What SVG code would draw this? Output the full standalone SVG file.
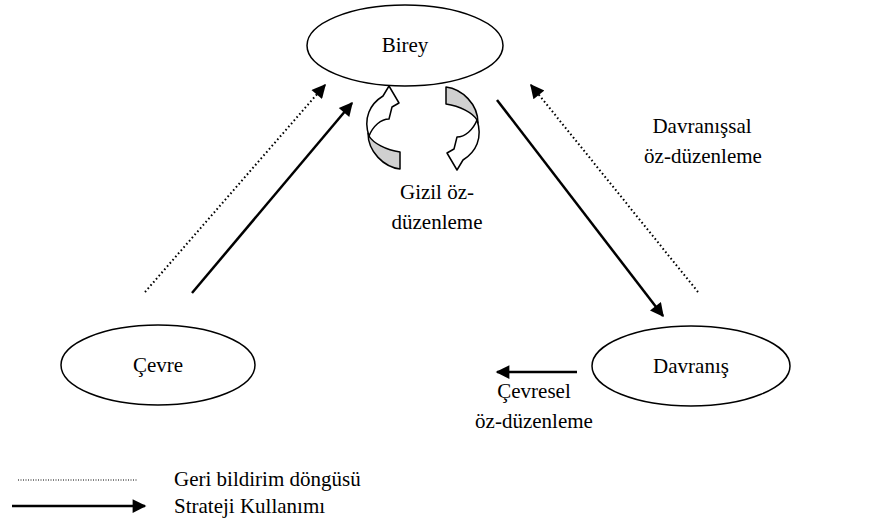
<svg xmlns="http://www.w3.org/2000/svg" width="873" height="530" viewBox="0 0 873 530">
<style>
.node{fill:#fff;stroke:#000;stroke-width:1.5}
text{font-family:"Liberation Serif","Times New Roman",serif;font-size:21px;fill:#000}
.c{text-anchor:middle}
.solid{stroke:#000;stroke-width:2.5;fill:none}
.dot{stroke:#000;stroke-width:2;stroke-dasharray:1.6 2.6;fill:none}
.ca{stroke:#000;stroke-width:1.5;stroke-linejoin:round}
</style>
<defs>
<marker id="ah" viewBox="0 0 10 10" refX="9" refY="5" markerWidth="6" markerHeight="5.5" markerUnits="strokeWidth" orient="auto"><path d="M0,0 L10,5 L0,10 Z" fill="#000"/></marker>
<marker id="ahd" viewBox="0 0 10 10" refX="9" refY="5" markerWidth="8" markerHeight="7" markerUnits="strokeWidth" orient="auto"><path d="M0,0 L10,5 L0,10 Z" fill="#000"/></marker>
<g id="curved">
<path class="ca" fill="#d0d0d0" d="M368,133 C368,152 384,167 400,169 L400,152 C386,150 373,143 369,136 Z"/>
<path class="ca" fill="#fff" d="M369,136 C363,118 370,104 383,96 L389,86 L399,103 L392,107 L389,119 C381,119 373,126 369,136 Z"/>
</g>
</defs>
<g id="connectors">
<line class="solid" x1="192" y1="293" x2="352" y2="103" marker-end="url(#ah)"/>
<line class="dot" x1="145" y1="292" x2="325" y2="85" marker-end="url(#ahd)"/>
<line class="solid" x1="497" y1="100" x2="663" y2="316" marker-end="url(#ah)"/>
<line class="dot" x1="698" y1="292" x2="531" y2="85" marker-end="url(#ahd)"/>
<line class="solid" x1="577" y1="372" x2="497" y2="372" marker-end="url(#ah)"/>
</g>
<g id="birey">
<ellipse class="node" cx="405" cy="45.5" rx="98" ry="40.5"/>
<text class="c" x="405" y="52">Birey</text>
</g>
<g id="cevre">
<ellipse class="node" cx="158" cy="365" rx="97" ry="40"/>
<text class="c" x="158" y="372">Çevre</text>
</g>
<g id="davranis">
<ellipse class="node" cx="691" cy="366" rx="99" ry="40"/>
<text class="c" x="691" y="373">Davranış</text>
</g>
<g id="gizil">
<use href="#curved"/>
<use href="#curved" transform="rotate(180 423 128)"/>
<text class="c" x="437" y="199">Gizil öz-</text>
<text class="c" x="437" y="229">düzenleme</text>
</g>
<g id="labels">
<text class="c" x="702" y="133">Davranışsal</text>
<text class="c" x="703" y="163">öz-düzenleme</text>
<text class="c" x="534" y="398">Çevresel</text>
<text class="c" x="534" y="428">öz-düzenleme</text>
</g>
<g id="legend">
<line class="dot" x1="18" y1="480" x2="138" y2="480" style="stroke-width:1;stroke-dasharray:1 1.5"/>
<line class="solid" x1="12" y1="506" x2="145" y2="506" marker-end="url(#ah)"/>
<text x="174" y="486">Geri bildirim döngüsü</text>
<text x="174" y="513">Strateji Kullanımı</text>
</g>
</svg>
